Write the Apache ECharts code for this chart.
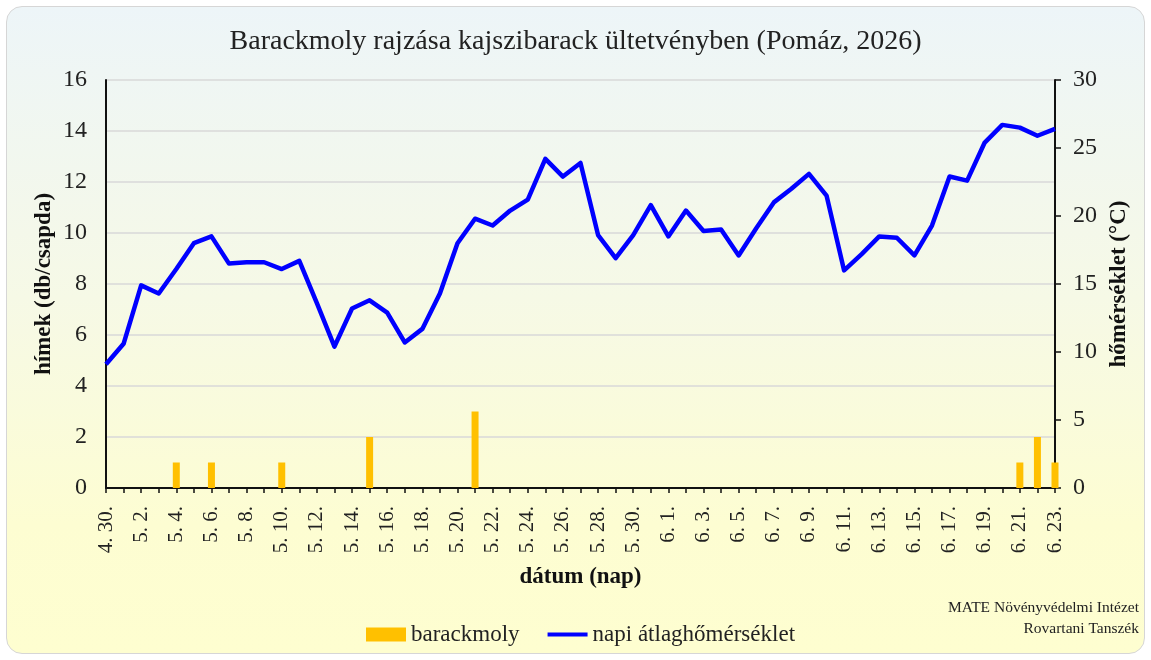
<!DOCTYPE html>
<html>
<head>
<meta charset="utf-8">
<script src="https://cdn.jsdelivr.net/npm/echarts@6/dist/echarts.min.js"></script>
<style>
  html, body { margin: 0; padding: 0; background: #ffffff; }
  #frame {
    position: absolute; left: 6px; top: 6px; width: 1137px; height: 646px;
    border: 1.5px solid #d6d6d6; border-radius: 16px;
    background: linear-gradient(to bottom, #edf5f8 0%, #f6f9e6 45%, #fdfdd2 80%, #fefed0 100%);
  }
  #chart { position: absolute; left: 0; top: 0; width: 1151px; height: 660px; }
</style>
</head>
<body>
<div id="frame"></div>
<div id="chart"></div>
<script>
const categories = [
  '4. 30.',
  '5. 1.','5. 2.','5. 3.','5. 4.','5. 5.','5. 6.','5. 7.','5. 8.','5. 9.','5. 10.',
  '5. 11.','5. 12.','5. 13.','5. 14.','5. 15.','5. 16.','5. 17.','5. 18.','5. 19.','5. 20.',
  '5. 21.','5. 22.','5. 23.','5. 24.','5. 25.','5. 26.','5. 27.','5. 28.','5. 29.','5. 30.','5. 31.',
  '6. 1.','6. 2.','6. 3.','6. 4.','6. 5.','6. 6.','6. 7.','6. 8.','6. 9.','6. 10.',
  '6. 11.','6. 12.','6. 13.','6. 14.','6. 15.','6. 16.','6. 17.','6. 18.','6. 19.','6. 20.',
  '6. 21.','6. 22.','6. 23.'
];
// moth catches (males per trap)
const barackmoly = [
  0, 0, 0, 0, 1, 0, 1, 0, 0, 0, 1,
  0, 0, 0, 0, 2, 0, 0, 0, 0, 0,
  3, 0, 0, 0, 0, 0, 0, 0, 0, 0, 0,
  0, 0, 0, 0, 0, 0, 0, 0, 0, 0,
  0, 0, 0, 0, 0, 0, 0, 0, 0, 0,
  1, 2, 1
];
// daily mean temperature (°C)
const homerseklet = [
  9.1,
  10.6, 14.9, 14.3, 16.1, 18.0, 18.5, 16.5, 16.6, 16.6, 16.1,
  16.7, 13.6, 10.4, 13.2, 13.8, 12.9, 10.7, 11.7, 14.3, 18.0,
  19.8, 19.3, 20.4, 21.2, 24.2, 22.9, 23.9, 18.6, 16.9, 18.6, 20.8,
  18.5, 20.4, 18.9, 19.0, 17.1, 19.1, 21.0, 22.0, 23.1, 21.5,
  16.0, 17.2, 18.5, 18.4, 17.1, 19.3, 22.9, 22.6, 25.4, 26.7,
  26.5, 25.9, 26.4
];
const leftTicks = { min: 0, max: 16, interval: 2 };
const rightTicks = { min: 0, max: 30, interval: 5 };
const creditLines = ['MATE Növényvédelmi Intézet', 'Rovartani Tanszék'];

const FONT = '"Liberation Serif", "Times New Roman", serif';
const chart = echarts.init(document.getElementById('chart'), null, { renderer: 'canvas' });
chart.setOption({
  backgroundColor: 'transparent',
  animation: false,
  textStyle: { fontFamily: FONT, color: '#222' },
  title: {
    text: 'Barackmoly rajzása kajszibarack ültetvényben (Pomáz, 2026)',
    left: 'center', top: 23,
    textStyle: { fontFamily: FONT, fontSize: 28, fontWeight: 'normal', color: '#222' }
  },
  legend: {
    top: 618, left: 361,
    itemGap: 28,
    itemWidth: 40, itemHeight: 14,
    textStyle: { fontFamily: FONT, fontSize: 23, color: '#222' },
    data: [
      { name: 'barackmoly', icon: 'rect', itemStyle: { color: '#FFC000' } },
      { name: 'napi átlaghőmérséklet',
        icon: 'path://M0,0 L0.01,0 M40,14 L39.99,14 M0,5 L40,5 L40,9 L0,9 Z',
        itemStyle: { color: '#0000FF' } }
    ]
  },
  graphic: creditLines.map((t, i) => ({
    type: 'text', right: 12, top: 600 + i * 21,
    style: { text: t, font: '15.5px ' + FONT, fill: '#222' }
  })),
  grid: { left: 106, right: 96, top: 80, bottom: 172, containLabel: false },
  xAxis: {
    type: 'category',
    data: categories,
    boundaryGap: false,
    name: 'dátum (nap)',
    nameLocation: 'middle', nameGap: 78,
    nameTextStyle: { fontFamily: FONT, fontSize: 23, fontWeight: 'bold', color: '#111' },
    axisLine: { lineStyle: { color: '#111', width: 2 } },
    axisTick: { interval: 0, length: 5, lineStyle: { color: '#111', width: 1.5 } },
    axisLabel: { interval: 1, rotate: 90, fontFamily: FONT, fontSize: 21, color: '#222', margin: 18 },
    splitLine: { show: false }
  },
  yAxis: [
    {
      type: 'value', position: 'left',
      min: leftTicks.min, max: leftTicks.max, interval: leftTicks.interval,
      name: 'hímek (db/csapda)', nameLocation: 'middle', nameGap: 50, nameRotate: 90,
      nameMoveOverlap: false,
      nameTextStyle: { fontFamily: FONT, fontSize: 23, fontWeight: 'bold', color: '#111' },
      axisLine: { show: true, lineStyle: { color: '#111', width: 2 } },
      axisTick: { show: false },
      axisLabel: { fontFamily: FONT, fontSize: 24, color: '#222', margin: 19 },
      splitLine: { show: true, lineStyle: { color: '#d9d9d9', width: 1.5 } }
    },
    {
      type: 'value', position: 'right',
      min: rightTicks.min, max: rightTicks.max, interval: rightTicks.interval,
      name: 'hőmérséklet (°C)', nameLocation: 'middle', nameGap: 51, nameRotate: 90,
      nameTextStyle: { fontFamily: FONT, fontSize: 23, fontWeight: 'bold', color: '#111' },
      axisLine: { show: true, lineStyle: { color: '#111', width: 2 } },
      axisTick: { show: true, inside: false, length: 6, lineStyle: { color: '#111', width: 1.5 } },
      axisLabel: { fontFamily: FONT, fontSize: 24, color: '#222', margin: 18 },
      splitLine: { show: false }
    }
  ],
  series: [
    {
      name: 'barackmoly', type: 'bar', yAxisIndex: 0,
      data: barackmoly, barWidth: 7, clip: true,
      itemStyle: { color: '#FFC000' }
    },
    {
      name: 'napi átlaghőmérséklet', type: 'line', yAxisIndex: 1,
      data: homerseklet, symbol: 'none', smooth: false,
      lineStyle: { color: '#0000FF', width: 4.5, join: 'round' },
      itemStyle: { color: '#0000FF' }
    }
  ]
});
</script>
</body>
</html>
